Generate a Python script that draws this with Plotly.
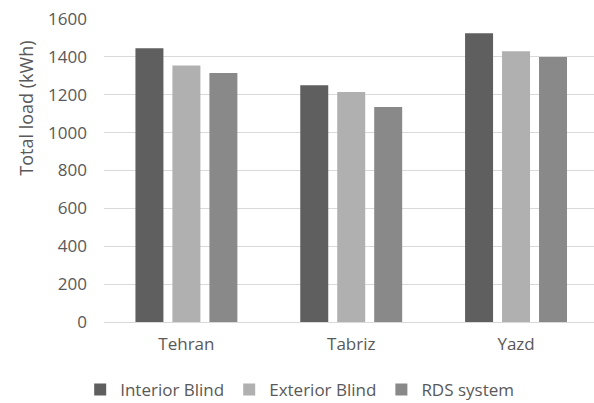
import plotly.graph_objects as go

cities = ["Tehran", "Tabriz", "Yazd"]
interior_blind = [1445, 1250, 1525]
exterior_blind = [1355, 1215, 1430]
rds_system = [1315, 1135, 1400]
y_ticks = [0, 200, 400, 600, 800, 1000, 1200, 1400, 1600]
y_title = "Total load (kWh)"

series = [
    ("Interior Blind", interior_blind, "#5f5f5f"),
    ("Exterior Blind", exterior_blind, "#b0b0b0"),
    ("RDS system", rds_system, "#898989"),
]

fig = go.Figure()
for name, vals, color in series:
    fig.add_trace(go.Bar(x=cities, y=vals, name=name, marker=dict(color=color, line=dict(width=0))))

font_family = "Open Sans, Noto Sans, sans-serif"
fig.update_layout(
    width=594, height=403,
    margin=dict(l=104, r=0, t=19, b=81, autoexpand=False),
    paper_bgcolor="white", plot_bgcolor="white",
    barmode="group", bargap=0.327, bargroupgap=0.243,
    font=dict(family=font_family, size=17, color="#595959"),
    showlegend=True,
    legend=dict(orientation="h", xref="container", yref="container",
                x=0.135, xanchor="left", y=1 - 390 / 403, yanchor="middle",
                font=dict(size=17, color="#595959"), traceorder="normal",
                bgcolor="rgba(0,0,0,0)"),
    xaxis=dict(range=[-0.5, 2.473], showgrid=False, showline=False, ticks="", automargin=False,
               ticklabelstandoff=10, tickfont=dict(size=17, color="#595959")),
    yaxis=dict(range=[0, 1600], tickvals=y_ticks, showgrid=True, gridcolor="#d9d9d9",
               gridwidth=1, zeroline=True, zerolinecolor="#d9d9d9", zerolinewidth=1,
               showline=False, ticks="", ticklabelstandoff=16, automargin=False,
               tickfont=dict(size=17, color="#595959")),
    annotations=[dict(text=y_title, textangle=-90, xref="paper", yref="paper",
                      x=-0.16, y=0.706, xanchor="center", yanchor="middle", showarrow=False,
                      font=dict(size=18, color="#595959"))],
)

fig.write_html("out.html", config={"displayModeBar": False},
               post_script="document.body.style.margin='0';")
